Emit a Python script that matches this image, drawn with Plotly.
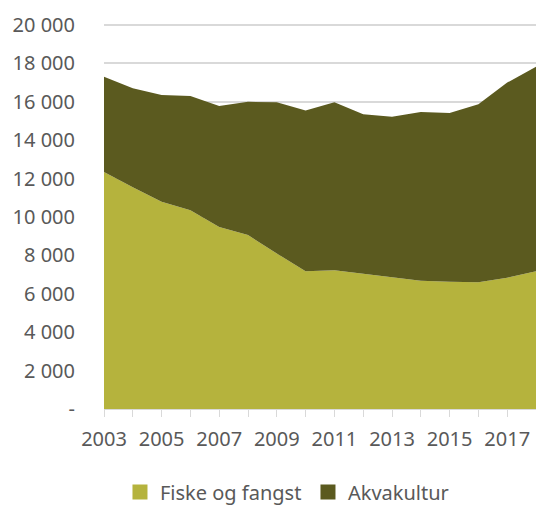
import plotly.graph_objects as go

years = list(range(2003, 2019))
fiske = [12350, 11550, 10800, 10350, 9480, 9060, 8100, 7170, 7220, 7030, 6840, 6680, 6630, 6600, 6840, 7170]
total = [17300, 16700, 16350, 16300, 15780, 16000, 15970, 15550, 15970, 15350, 15220, 15470, 15420, 15870, 17000, 17830]
akva = [t - f for t, f in zip(total, fiske)]
series_names = ["Fiske og fangst", "Akvakultur"]
colors = ["#B5B33D", "#5B5A1F"]

y_ticks = list(range(0, 20001, 2000))
y_labels = ["-"] + [f"{v // 1000} 000" for v in y_ticks[1:]]
x_labels = [str(y) if (y - 2003) % 2 == 0 else "" for y in years]

fig = go.Figure()
for name, vals, col in zip(series_names, [fiske, akva], colors):
    fig.add_trace(go.Scatter(x=years, y=vals, name=name, stackgroup="one",
                             mode="lines", line=dict(width=0, color=col),
                             fillcolor=col, showlegend=False))
# legend entries with square swatches
for name, col in zip(series_names, colors):
    fig.add_trace(go.Scatter(x=[None], y=[None], name=name, mode="markers",
                             marker=dict(symbol="square", size=15, color=col),
                             showlegend=True))

font = dict(family="Noto Sans, Open Sans, sans-serif", size=20, color="#595959")
fig.update_layout(
    width=536, height=505,
    margin=dict(l=104, r=0, t=21, b=96, autoexpand=False),
    paper_bgcolor="white", plot_bgcolor="white",
    font=font,
    showlegend=True,
    legend=dict(orientation="h", x=0.037, xanchor="left",
                yref="container", y=(505 - 492) / 505, yanchor="middle",
                font=dict(size=20, color="#595959"), traceorder="normal",
                itemwidth=30, tracegroupgap=0, entrywidth=143),
    xaxis=dict(range=[2003, 2018], tickvals=years, ticktext=x_labels,
               ticks="outside", ticklen=7, tickcolor="#d9d9d9", tickwidth=1,
               showline=True, linecolor="#d9d9d9", linewidth=1,
               showgrid=False, zeroline=False, ticklabelstandoff=5),
    yaxis=dict(range=[0, 20208], tickvals=y_ticks, ticktext=y_labels,
               showgrid=True, gridcolor="#d9d9d9", gridwidth=1.5,
               zeroline=False, showline=False, ticks="", ticklabelstandoff=28),
)
fig.write_html("out.html", config={"displayModeBar": False},
               post_script="document.body.style.margin='0px';")
